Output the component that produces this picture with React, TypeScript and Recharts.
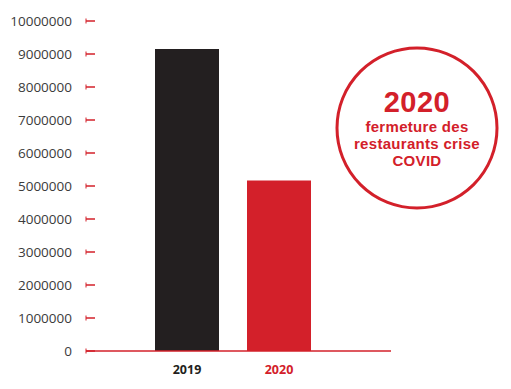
import { BarChart, Bar, XAxis, YAxis, Cell } from 'recharts';

const years = ['2019', '2020'];
const visitors = [9150000, 5170000];
const yTicks = [0, 1000000, 2000000, 3000000, 4000000, 5000000, 6000000, 7000000, 8000000, 9000000, 10000000];
const noteTitle = '2020';
const noteLines = ['fermeture des', 'restaurants crise', 'COVID'];

const RED = '#d3202a';
const DARK = '#231f20';
const BAR_COLORS = [DARK, RED];
const FONT = "'Open Sans', 'Noto Sans', sans-serif";
const NOTE_FONT = "'Liberation Sans', Arial, sans-serif";

const data = years.map((year, i) => ({ year, value: visitors[i] }));

function YTick({ y, payload }: { y?: number; payload?: { value: number } }) {
  if (y === undefined || !payload) return null;
  return (
    <g>
      <text
        x={72}
        y={y}
        dy={5}
        textAnchor="end"
        fill="#3b3b3b"
        fontSize={13.5}
        fontWeight={500}
        fontFamily={FONT}
      >
        {payload.value}
      </text>
      <line x1={86} x2={95} y1={y} y2={y} stroke={RED} strokeWidth={1.5} />
      <line x1={86} x2={86} y1={y - 2.5} y2={y + 2.5} stroke={RED} strokeWidth={1} />
    </g>
  );
}

function XTick({ x, y, payload, index }: { x?: number; y?: number; payload?: { value: string }; index?: number }) {
  if (x === undefined || y === undefined || !payload) return null;
  return (
    <text
      x={x}
      y={y}
      dy={15}
      textAnchor="middle"
      fill={BAR_COLORS[(index ?? 0) % BAR_COLORS.length]}
      fontSize={12.5}
      fontWeight={700}
      fontFamily={FONT}
    >
      {payload.value}
    </text>
  );
}

export default function App() {
  return (
    <div style={{ position: 'absolute', left: 0, top: 0, width: 511, height: 389, background: '#fff' }}>
      <BarChart
        width={511}
        height={389}
        data={data}
        margin={{ top: 21, right: 120, bottom: 0, left: 0 }}
      >
        <XAxis
          dataKey="year"
          height={38}
          padding={{ left: 55, right: 66 }}
          axisLine={{ stroke: RED, strokeWidth: 1.5 }}
          tickLine={false}
          tick={<XTick />}
          interval={0}
        />
        <YAxis
          width={86}
          domain={[0, 10000000]}
          ticks={yTicks}
          axisLine={false}
          tickLine={false}
          tick={<YTick />}
          interval={0}
        />
        <Bar dataKey="value" barSize={64} isAnimationActive={false}>
          {data.map((d, i) => (
            <Cell key={d.year} fill={BAR_COLORS[i % BAR_COLORS.length]} />
          ))}
        </Bar>
      </BarChart>
      <svg
        width={511}
        height={389}
        style={{ position: 'absolute', left: 0, top: 0, pointerEvents: 'none' }}
      >
        <circle cx={417} cy={128} r={80} fill="#fff" stroke={RED} strokeWidth={3} />
        <text
          x={417}
          y={112}
          textAnchor="middle"
          fill={RED}
          fontSize={29}
          fontWeight={700}
          fontFamily={NOTE_FONT}
          letterSpacing={0.5}
        >
          {noteTitle}
        </text>
        {noteLines.map((line, i) => (
          <text
            key={line}
            x={417}
            y={132 + i * 17}
            textAnchor="middle"
            fill={RED}
            fontSize={15}
            fontWeight={700}
            fontFamily={NOTE_FONT}
            letterSpacing={0.3}
          >
            {line}
          </text>
        ))}
      </svg>
    </div>
  );
}
